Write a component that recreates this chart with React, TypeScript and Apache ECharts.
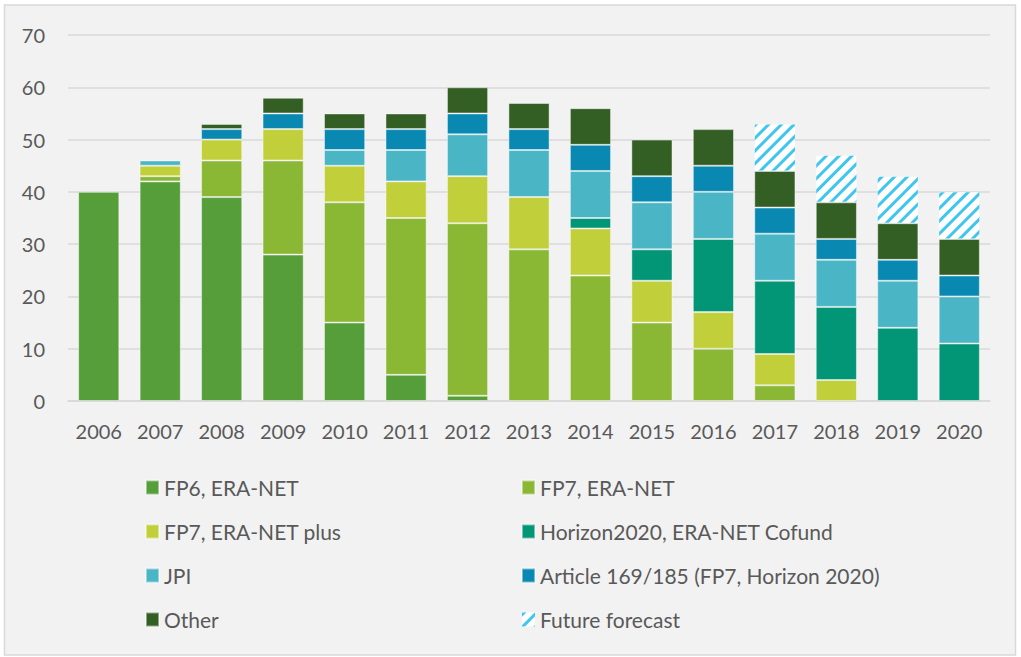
import React, { useEffect, useRef } from "react";
import * as echarts from "echarts";

const years = ["2006", "2007", "2008", "2009", "2010", "2011", "2012", "2013", "2014", "2015", "2016", "2017", "2018", "2019", "2020"];
const fp6 = [40, 42, 39, 28, 15, 5, 1, null, null, null, null, null, null, null, null];
const fp7 = [null, 1, 7, 18, 23, 30, 33, 29, 24, 15, 10, 3, null, null, null];
const fp7plus = [null, 2, 4, 6, 7, 7, 9, 10, 9, 8, 7, 6, 4, null, null];
const h2020 = [null, null, null, null, null, null, null, null, 2, 6, 14, 14, 14, 14, 11];
const jpi = [null, 1, null, null, 3, 6, 8, 9, 9, 9, 9, 9, 9, 9, 9];
const art = [null, null, 2, 3, 4, 4, 4, 4, 5, 5, 5, 5, 4, 4, 4];
const other = [null, null, 1, 3, 3, 3, 5, 5, 7, 7, 7, 7, 7, 7, 7];
const forecast = [null, null, null, null, null, null, null, null, null, null, null, 9, 9, 9, 9];
const yTicks = { min: 0, max: 70, interval: 10 };

const seriesDefs = [
  { name: "FP6, ERA-NET", data: fp6, color: "#559E3A" },
  { name: "FP7, ERA-NET", data: fp7, color: "#8BB834" },
  { name: "FP7, ERA-NET plus", data: fp7plus, color: "#C0CF3A" },
  { name: "Horizon2020, ERA-NET Cofund", data: h2020, color: "#029676" },
  { name: "JPI", data: jpi, color: "#4AB5C4" },
  { name: "Article 169/185 (FP7, Horizon 2020)", data: art, color: "#0989B1" },
  { name: "Other", data: other, color: "#345F24" },
  { name: "Future forecast", data: forecast, color: "#FFFFFF" },
];

export default function App() {
  const ref = useRef<HTMLDivElement>(null);
  useEffect(() => {
    if (!ref.current) return;
    const chart = echarts.init(ref.current, null, { renderer: "svg" });
    const font = "Lato, 'Open Sans', sans-serif";
    const series = seriesDefs.map((s) => {
      const isF = s.name === "Future forecast";
      return {
        name: s.name,
        type: "bar",
        stack: "total",
        data: s.data,
        barCategoryGap: "33%",
        itemStyle: {
          color: s.color,
          borderColor: isF ? "rgba(255,255,255,0)" : "rgba(255,255,255,0.45)",
          borderWidth: 1,
          decal: isF
            ? {
                symbol: "rect",
                color: "#3FC6EF",
                dashArrayX: [1, 0],
                dashArrayY: [3, 6],
                rotation: -Math.PI / 4,
                symbolSize: 1,
              }
            : undefined,
        },
      };
    });
    const legendCommon = {
      orient: "vertical",
      top: 477,
      padding: 0,
      itemGap: 23,
      itemWidth: 13,
      itemHeight: 14,
      icon: "rect",
      selectedMode: false,
      textStyle: { fontFamily: font, fontSize: 21, color: "#595959" },
    };
    chart.setOption({
      animation: false,
      backgroundColor: "#FFFFFF",
      textStyle: { fontFamily: font },
      graphic: [
        {
          type: "rect",
          z: -10,
          silent: true,
          shape: { x: 4.5, y: 5, width: 1011, height: 650 },
          style: { fill: "#F2F2F2", stroke: "#D9D9D9", lineWidth: 1.5 },
        },
      ],
      grid: { left: 68, right: 31, top: 35, bottom: 256, containLabel: false },
      legend: [
        { ...legendCommon, left: 145, data: ["FP6, ERA-NET", "FP7, ERA-NET plus", "JPI", "Other"] },
        { ...legendCommon, left: 521, data: ["FP7, ERA-NET", "Horizon2020, ERA-NET Cofund", "Article 169/185 (FP7, Horizon 2020)", "Future forecast"] },
      ],
      xAxis: {
        type: "category",
        data: years,
        axisLine: { lineStyle: { color: "#D9D9D9", width: 1.5 } },
        axisTick: { show: false },
        axisLabel: { color: "#595959", fontSize: 20, fontFamily: font, margin: 20 },
      },
      yAxis: {
        type: "value",
        min: yTicks.min,
        max: yTicks.max,
        interval: yTicks.interval,
        axisLine: { show: false },
        axisTick: { show: false },
        splitLine: { lineStyle: { color: "#D9D9D9", width: 1.5 } },
        axisLabel: { color: "#595959", fontSize: 20, fontFamily: font, margin: 23 },
      },
      series,
    });
    return () => chart.dispose();
  }, []);
  return <div ref={ref} style={{ position: "absolute", left: 0, top: 0, width: 1021, height: 657 }} />;
}
